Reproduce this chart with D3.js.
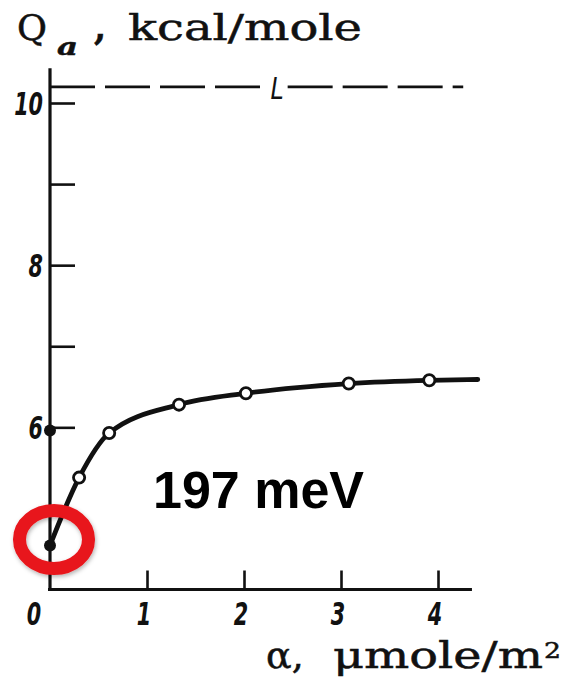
<!DOCTYPE html>
<html>
<head>
<meta charset="utf-8">
<script src="https://cdn.jsdelivr.net/npm/d3@7"></script>
<style>
  html, body { margin: 0; padding: 0; background: #fff; }
  svg { display: block; }
  .serif { font-family: "DejaVu Serif", "Liberation Serif", serif; fill: #111; stroke: #111; stroke-width: 0.5; }
  .num { font-family: "DejaVu Sans Condensed", "Liberation Sans Narrow", "DejaVu Sans", sans-serif; font-style: oblique; font-weight: bold; fill: #111; }
  .num.thin { font-weight: normal; }
</style>
</head>
<body>
<svg id="chart" width="567" height="681"></svg>
<script>
// Adsorption heat Q_a versus surface coverage alpha
const coverage = [0.30, 0.61, 1.33, 2.02, 3.08, 3.91];          // µmole/m², open circles
const heat     = [5.38, 5.93, 6.28, 6.42, 6.54, 6.58];          // kcal/mole
const curveTail = [[4.41, 6.59]];                               // curve continues past last point
const highlightMeV = 197;                                       // initial heat, meV
const kcalPerMoleInMeV = 43.364;
const initialHeat = highlightMeV / kcalPerMoleInMeV;            // ≈ 4.54 kcal/mole
const axisMarkHeat = [5.96];                                    // filled dot on the Q axis
const limitHeat = 10.2;                                         // level L
const xTicks = [0, 1, 2, 3, 4];
const yTicks = [6, 7, 8, 9, 10];
const yTickLabels = [6, 8, 10];

const svg = d3.select("#chart");

const x = d3.scaleLinear().domain([0, 4]).range([50, 438]);
const y = d3.scaleLinear().domain([4, 10]).range([589.5, 103]);

// axes ------------------------------------------------------------
const xAxis = d3.axisBottom(x).tickValues(xTicks.slice(1)).tickSizeInner(-19).tickSizeOuter(0).tickFormat("");
const gx = svg.append("g").attr("transform", `translate(0,${y(4)})`).call(xAxis);
gx.select(".domain").remove();
gx.selectAll(".tick line").attr("stroke", "#111").attr("stroke-width", 2.6);

const yAxis = d3.axisLeft(y).tickValues(yTicks).tickSizeInner(-25).tickSizeOuter(0).tickFormat("");
const gy = svg.append("g").attr("transform", `translate(${x(0)},0)`).call(yAxis);
gy.select(".domain").remove();
gy.selectAll(".tick line").attr("stroke", "#111").attr("stroke-width", 2.6);

// axis lines
svg.append("line")
  .attr("x1", x(0) - 2).attr("x2", x(4.35))
  .attr("y1", y(4)).attr("y2", y(4))
  .attr("stroke", "#111").attr("stroke-width", 3.2);
svg.append("line")
  .attr("x1", x(0)).attr("x2", x(0))
  .attr("y1", y(4) + 1.6).attr("y2", y(10.43))
  .attr("stroke", "#111").attr("stroke-width", 3.2);

// tick labels
svg.selectAll("text.xl").data(xTicks).join("text")
  .attr("class", "num xl")
  .attr("text-anchor", "middle")
  .attr("font-size", 32)
  .attr("transform", d => `translate(${x(d) - (d === 0 ? 16 : 3)},625) scale(0.72,1)`)
  .text(d => d);

svg.selectAll("text.yl").data(yTickLabels).join("text")
  .attr("class", "num yl")
  .attr("text-anchor", "end")
  .attr("font-size", 32)
  .attr("transform", d => `translate(${x(0) - 7},${y(d) + 12}) scale(0.72,1)`)
  .text(d => d);

// limit line L ----------------------------------------------------
const dash = "45,10";
svg.append("line")
  .attr("x1", x(0)).attr("x2", x(2.23))
  .attr("y1", y(limitHeat)).attr("y2", y(limitHeat))
  .attr("stroke", "#111").attr("stroke-width", 2.8).attr("stroke-dasharray", dash);
svg.append("line")
  .attr("x1", x(2.45)).attr("x2", x(4.26))
  .attr("y1", y(limitHeat)).attr("y2", y(limitHeat))
  .attr("stroke", "#111").attr("stroke-width", 2.8).attr("stroke-dasharray", dash);
svg.append("text")
  .attr("class", "num thin")
  .attr("text-anchor", "middle")
  .attr("font-size", 31)
  .attr("transform", `translate(${x(2.34)},${y(limitHeat) + 12}) scale(0.85,1)`)
  .text("L");

// curve -----------------------------------------------------------
const curvePts = [[0, initialHeat]].concat(coverage.map((c, i) => [c, heat[i]]), curveTail);
const line = d3.line().x(d => x(d[0])).y(d => y(d[1])).curve(d3.curveMonotoneX);
svg.append("path")
  .attr("d", line(curvePts))
  .attr("fill", "none").attr("stroke", "#111").attr("stroke-width", 4.8)
  .attr("stroke-linecap", "round");

svg.selectAll("circle.open").data(coverage.map((c, i) => [c, heat[i]])).join("circle")
  .attr("class", "open")
  .attr("cx", d => x(d[0])).attr("cy", d => y(d[1]))
  .attr("r", 5.6)
  .attr("fill", "#fff").attr("stroke", "#111").attr("stroke-width", 2.8);

svg.selectAll("circle.solid").data([initialHeat].concat(axisMarkHeat)).join("circle")
  .attr("class", "solid")
  .attr("cx", x(0)).attr("cy", d => y(d))
  .attr("r", 6)
  .attr("fill", "#111");

// titles ----------------------------------------------------------
const title = svg.append("g").attr("class", "serif");
title.append("text").attr("x", 17).attr("y", 40).attr("font-size", 35)
  .attr("textLength", 30).attr("lengthAdjust", "spacingAndGlyphs").text("Q");
title.append("text").attr("x", 57).attr("y", 55).attr("font-size", 25)
  .attr("font-style", "italic").attr("font-weight", "bold")
  .attr("textLength", 21).attr("lengthAdjust", "spacingAndGlyphs").text("a");
title.append("text").attr("x", 94).attr("y", 40).attr("font-size", 35).attr("font-weight", "bold").text(",");
title.append("text").attr("x", 128).attr("y", 40).attr("font-size", 35)
  .attr("textLength", 234).attr("lengthAdjust", "spacingAndGlyphs").text("kcal/mole");

const xTitle = svg.append("g").attr("class", "serif");
xTitle.append("text").attr("x", 266).attr("y", 668).attr("font-size", 38).text("α,");
xTitle.append("text").attr("x", 333).attr("y", 668).attr("font-size", 38)
  .attr("textLength", 210).attr("lengthAdjust", "spacingAndGlyphs").text("μmole/m");
xTitle.append("text").attr("x", 544).attr("y", 658).attr("font-size", 22)
  .attr("textLength", 17).attr("lengthAdjust", "spacingAndGlyphs").text("2");

// annotation ------------------------------------------------------
svg.append("text")
  .attr("x", 153).attr("y", 508)
  .attr("font-family", "Liberation Sans, Arial, Helvetica, sans-serif")
  .attr("font-weight", "bold").attr("font-size", 51)
  .attr("textLength", 211).attr("lengthAdjust", "spacingAndGlyphs")
  .attr("fill", "#000")
  .text(`${highlightMeV} meV`);

const defs = svg.append("defs");
const f = defs.append("filter").attr("id", "soft").attr("x", "-30%").attr("y", "-30%").attr("width", "160%").attr("height", "160%");
f.append("feDropShadow").attr("dx", 1).attr("dy", 2).attr("stdDeviation", 2).attr("flood-color", "#000").attr("flood-opacity", 0.3);

svg.append("ellipse")
  .attr("cx", x(0) + 4).attr("cy", y(initialHeat) - 6)
  .attr("rx", 34.5).attr("ry", 29)
  .attr("fill", "none").attr("stroke", "#e8141b").attr("stroke-width", 13)
  .attr("filter", "url(#soft)");
</script>
</body>
</html>
